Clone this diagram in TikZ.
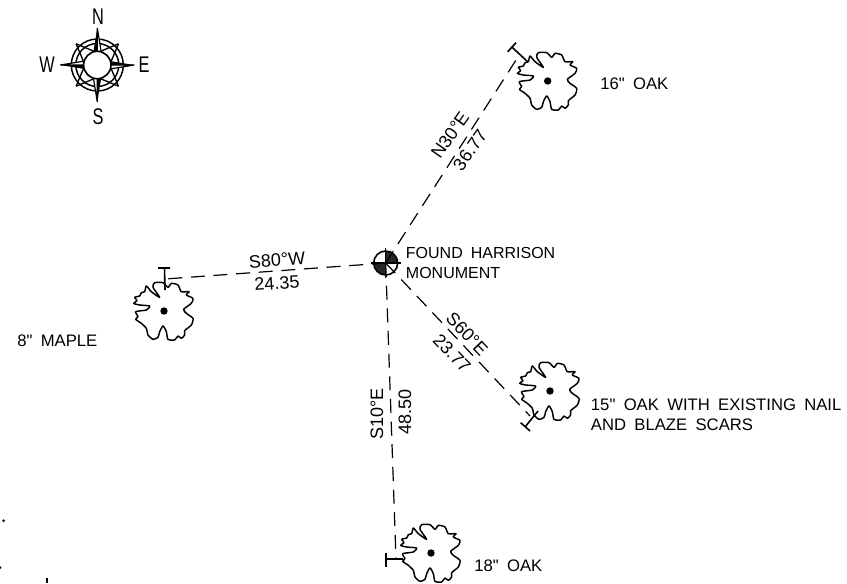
\documentclass[tikz,border=0pt]{standalone}
\usepackage{fontspec}
\usepackage{graphicx}
\setmainfont{Liberation Sans}
\newfontfamily\labfont[WordSpace=1.8]{Liberation Sans}
\usetikzlibrary{calc}
\newcommand{\cmptxt}[1]{\scalebox{0.72}[1]{#1}}
\tikzset{
 x=0.75pt,y=-0.75pt,
 lab/.style={font=\labfont\fontsize{12.5}{15}\selectfont,inner sep=0pt,align=left,anchor=west},
 labsmall/.style={font=\labfont\fontsize{12}{15}\selectfont,inner sep=0pt,align=left,anchor=west},
 dim/.style={font=\fontsize{13.5}{13}\selectfont,inner sep=0pt},
 cmp/.style={font=\fontsize{17}{18}\selectfont,inner sep=0pt},
 tie/.style={dash pattern=on 10.5pt off 6.5pt,line width=0.9pt},
 tick/.style={line width=1.2pt},
 treeline/.style={line width=1.1pt,line join=round},
 tree/.pic={
  \draw[treeline,xscale=0.3333,yscale=0.3333] plot[smooth cycle,tension=0.4] coordinates {
   (-13,-41) (-38,-58) (-53,-75) (-58,-58) (-68,-55) (-73,-45) (-88,-41) (-81,-31) (-91,-23) (-73,-18) (-43,-15) (-53,-3) (-85,2) (-78,17) (-85,25) (-68,37) (-53,52) (-48,72) (-33,85) (-18,79) (-13,62) (-3,45) (7,62) (12,85) (32,87) (42,75) (52,82) (62,72) (62,59) (82,42) (87,22) (67,7) (59,-5) (82,-23) (87,-38) (67,-48) (75,-58) (52,-58) (42,-78) (22,-83) (12,-71) (-3,-85) (-28,-85) (-33,-71)};
  \fill (0,0) circle (3.7);
 }
}
\begin{document}
\begin{tikzpicture}
\useasboundingbox (0,0) rectangle (847,583);
% compass
\coordinate (cp) at (97.3,65);
\draw[line width=1.1pt] (cp) circle (26);
\draw[line width=1.1pt] (cp) circle (21.5);
\foreach \a in {45,135,225,315}{
 \draw[line width=1pt] ($(cp)+(\a:30)$) -- ($(cp)+(\a+32:14)$);
 \draw[line width=1pt] ($(cp)+(\a:30)$) -- ($(cp)+(\a-32:14)$);
}
\foreach \a in {0,90,180,270}{
 \draw[line width=0.9pt,fill=white] ($(cp)+(\a:37)$) -- ($(cp)+(\a+18:13)$) -- ($(cp)+(\a:13)$) -- cycle;
 \fill ($(cp)+(\a:37)$) -- ($(cp)+(\a-18:13)$) -- ($(cp)+(\a:13)$) -- cycle;
}
\draw[line width=1.2pt,fill=white] (cp) circle (13.7);
\node[cmp] (cn) at (98,17) {\cmptxt{N}};
\node[cmp] (cs) at (98,116.7) {\cmptxt{S}};
\node[cmp] (cw) at (47,65) {\cmptxt{W}};
\node[cmp] (ce) at (144,65) {\cmptxt{E}};
% monument
\coordinate (m) at (385.7,263);
\fill[black!85] (m) -- ++(12,0) arc (0:-90:12) -- cycle;
\fill[black!85] (m) -- ++(-12,0) arc (180:90:12) -- cycle;
\draw[line width=1.2pt] (m) circle (12);
\draw[line width=1.1pt] (370.7,263) -- (400.7,263) (385.7,248) -- (385.7,278);
% trees
\pic (t1) at (547.7,81) {tree};
\pic (t2) at (164,311) {tree};
\pic (t3) at (550,391) {tree};
\pic (t4) at (431,553) {tree};
% ties
\coordinate (e1) at (518,57);
\coordinate (e2) at (165,279);
\coordinate (e3) at (530,416);
\coordinate (e4) at (396,559);
\draw[tie] (m) -- (e1);
\draw[tie] (m) -- (e2);
\draw[tie] (m) -- (e3);
\draw[tie] (m) -- (e4);
\draw[tick] (507.7,51.7) -- (516,42.7) (511.8,47) -- (528,62);
\draw[tick] (158,268) -- (170,268) (164.5,268) -- (165,290);
\draw[tick] (520.7,422.7) -- (530,431) (525,427) -- (538,411);
\draw[tick] (386,552.7) -- (386,566.7) (386,559) -- (403,559);
% labels
\node[dim,rotate=55] (l1) at (450,135) {N30°E};
\node[dim,rotate=55] (l2) at (470,150) {36.77};
\node[dim,rotate=-46] (l3) at (467,334) {S60°E};
\node[dim,rotate=-46] (l4) at (452,353) {23.77};
\node[dim,rotate=90] (l5) at (377,414) {S10°E};
\node[dim,rotate=90] (l6) at (405,412) {48.50};
\node[dim,rotate=4] (l7) at (277,260) {S80°W};
\node[dim,rotate=4] (l8) at (277,283) {24.35};
\node[labsmall] (n1) at (405.7,263) {FOUND HARRISON\\MONUMENT};
\node[lab] (n2) at (600,84) {16" OAK};
\node[lab] (n3) at (17,340.7) {8" MAPLE};
\node[lab] (n4) at (590.7,415) {15" OAK WITH EXISTING NAIL\\AND BLAZE SCARS};
\node[lab] (n5) at (474,566) {18" OAK};
\fill (3.7,520.7) circle (1.5);
\fill (0,567.7) circle (1.5);
\draw[line width=0.9pt] (47,578) -- (47,583);
\end{tikzpicture}
\end{document}
